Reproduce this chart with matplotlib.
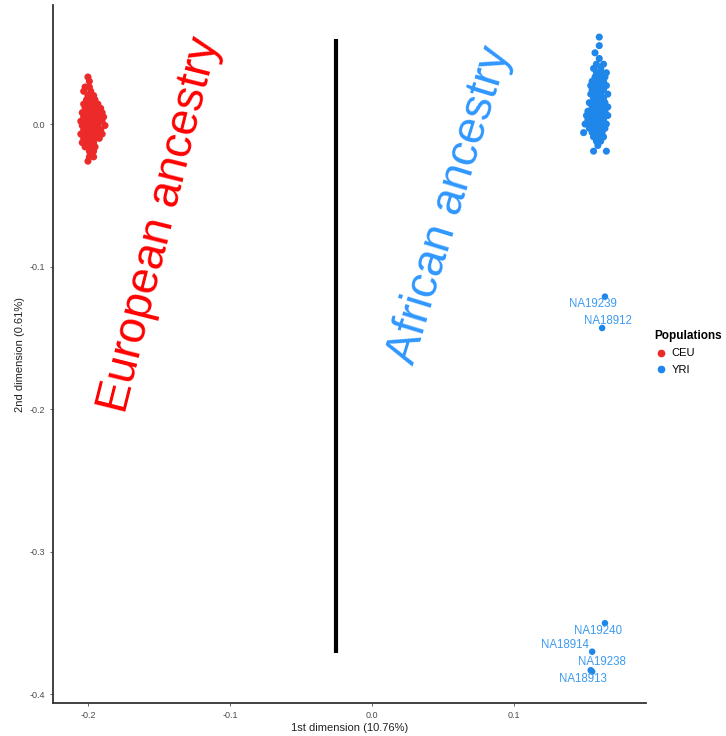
import matplotlib
matplotlib.use("Agg")
import matplotlib.pyplot as plt
from matplotlib.lines import Line2D

plt.rcParams['font.family'] = ['Liberation Sans', 'DejaVu Sans']

# ---------------- data ----------------
populations = ["CEU", "YRI"]

ceu_dim1 = [-0.200, -0.199, -0.202, -0.199, -0.203, -0.198, -0.200, -0.196,
            -0.201, -0.197, -0.195, -0.203, -0.199, -0.196, -0.193,
            -0.202, -0.198, -0.195, -0.191, -0.204, -0.200, -0.197, -0.193, -0.190,
            -0.203, -0.199, -0.196, -0.192, -0.189, -0.205, -0.201, -0.197, -0.194, -0.190,
            -0.204, -0.200, -0.196, -0.193, -0.188, -0.203, -0.199, -0.195, -0.191,
            -0.205, -0.201, -0.197, -0.193, -0.190, -0.203, -0.199, -0.195, -0.192,
            -0.204, -0.200, -0.196, -0.202, -0.198, -0.195, -0.199, -0.196,
            -0.199, -0.196, -0.200]
ceu_dim2 = [0.033, 0.030, 0.026, 0.026, 0.023, 0.023, 0.020, 0.020,
            0.017, 0.017, 0.017, 0.014, 0.014, 0.014, 0.014,
            0.011, 0.011, 0.011, 0.011, 0.008, 0.008, 0.008, 0.008, 0.008,
            0.005, 0.005, 0.005, 0.005, 0.005, 0.002, 0.002, 0.002, 0.002, 0.002,
            -0.001, -0.001, -0.001, -0.001, -0.001, -0.004, -0.004, -0.004, -0.004,
            -0.007, -0.007, -0.007, -0.007, -0.007, -0.010, -0.010, -0.010, -0.010,
            -0.013, -0.013, -0.013, -0.016, -0.016, -0.016, -0.019, -0.019,
            -0.023, -0.023, -0.026]

yri_dim1 = [0.160, 0.160, 0.157, 0.160, 0.158, 0.163, 0.156, 0.161,
            0.158, 0.162, 0.165, 0.157, 0.161, 0.164, 0.155, 0.159, 0.163,
            0.154, 0.158, 0.162, 0.165, 0.155, 0.159, 0.163,
            0.154, 0.158, 0.161, 0.166, 0.156, 0.160, 0.163,
            0.153, 0.157, 0.161, 0.164, 0.155, 0.159, 0.162, 0.166,
            0.152, 0.156, 0.160, 0.164, 0.151, 0.155, 0.158, 0.162, 0.166,
            0.152, 0.156, 0.160, 0.163, 0.150, 0.154, 0.158, 0.161, 0.165,
            0.153, 0.157, 0.160, 0.164, 0.149, 0.155, 0.158, 0.162,
            0.156, 0.160, 0.163, 0.158, 0.161, 0.159, 0.156, 0.165]
yri_dim2 = [0.061, 0.055, 0.050, 0.046, 0.042, 0.042, 0.039, 0.039,
            0.036, 0.036, 0.036, 0.033, 0.033, 0.033, 0.030, 0.030, 0.030,
            0.027, 0.027, 0.027, 0.027, 0.024, 0.024, 0.024,
            0.021, 0.021, 0.021, 0.021, 0.018, 0.018, 0.018,
            0.015, 0.015, 0.015, 0.015, 0.012, 0.012, 0.012, 0.012,
            0.009, 0.009, 0.009, 0.009, 0.006, 0.006, 0.006, 0.006, 0.006,
            0.003, 0.003, 0.003, 0.003, 0.000, 0.000, 0.000, 0.000, 0.000,
            -0.003, -0.003, -0.003, -0.003, -0.006, -0.006, -0.006, -0.006,
            -0.009, -0.009, -0.009, -0.012, -0.012, -0.015, -0.019, -0.019]

outlier_ids = ["NA19239", "NA18912", "NA19240", "NA18914", "NA19238", "NA18913"]
outlier_dim1 = [0.164, 0.162, 0.164, 0.155, 0.154, 0.155]
outlier_dim2 = [-0.121, -0.143, -0.350, -0.370, -0.383, -0.384]
label_dim1 = [0.1556, 0.1662, 0.1592, 0.1359, 0.1620, 0.1486]
label_dim2 = [-0.1263, -0.1382, -0.3558, -0.3656, -0.3775, -0.3895]

divider_x = -0.0254
divider_y = [0.0596, -0.3712]

x_ticks = [-0.2, -0.1, 0.0, 0.1]
y_ticks = [0.0, -0.1, -0.2, -0.3, -0.4]

# ---------------- plot ----------------
red = "#EC2A2A"
blue = "#1F86EA"

fig = plt.figure(figsize=(7.26, 7.36), dpi=100)
ax = fig.add_axes([0.073, 0.0448, 0.817, 0.9484])

ax.scatter(ceu_dim1, ceu_dim2, s=26, color=red, edgecolors="none", zorder=3)
ax.scatter(yri_dim1, yri_dim2, s=26, color=blue, edgecolors="none", zorder=3)
ax.scatter(outlier_dim1, outlier_dim2, s=22, color=blue, edgecolors="none", zorder=3)
for name, lx, ly in zip(outlier_ids, label_dim1, label_dim2):
    ax.text(lx, ly, name, color="#3C9BF0", fontsize=8.3, ha="center", va="center")

ax.plot([divider_x, divider_x], divider_y, color="black", lw=3.0, solid_capstyle="butt")

ax.text(-0.149, -0.071, "European ancestry", color="#FF0000", fontsize=33,
        rotation=76, ha="center", va="center", rotation_mode="anchor")
ax.text(0.055, -0.057, "African ancestry", color="#2F97FF", fontsize=33,
        rotation=73, ha="center", va="center", rotation_mode="anchor")

ax.set_xlim(-0.2246, 0.193)
ax.set_ylim(-0.406, 0.0835)
ax.set_xticks(x_ticks)
ax.set_yticks(y_ticks)
ax.set_xticklabels([f"{v:.1f}" for v in x_ticks])
ax.set_yticklabels([f"{v:.1f}" for v in y_ticks])
ax.tick_params(axis="both", labelsize=6.5, labelcolor="#4D4D4D", color="#4D4D4D",
               length=2.5, width=0.6)
for s in ["top", "right"]:
    ax.spines[s].set_visible(False)
for s in ["left", "bottom"]:
    ax.spines[s].set_color("#333333")
    ax.spines[s].set_linewidth(1.3)

ax.set_xlabel("1st dimension (10.76%)", fontsize=8, color="#222222", labelpad=2)
ax.set_ylabel("2nd dimension (0.61%)", fontsize=8, color="#222222", labelpad=3)

handles = [Line2D([], [], marker="o", ls="none", color=c, markersize=4.5)
           for c in [red, blue]]
leg = fig.legend(handles, populations, title="Populations", loc="upper left",
                 bbox_to_anchor=(0.891, 0.5625), frameon=False, fontsize=8,
                 title_fontsize=8.5, handlelength=1.2, handletextpad=0.3,
                 labelspacing=0.6, borderpad=0.2)
leg.get_title().set_fontweight("bold")
leg._legend_box.align = "left"

fig.savefig("out.png", dpi=100)
